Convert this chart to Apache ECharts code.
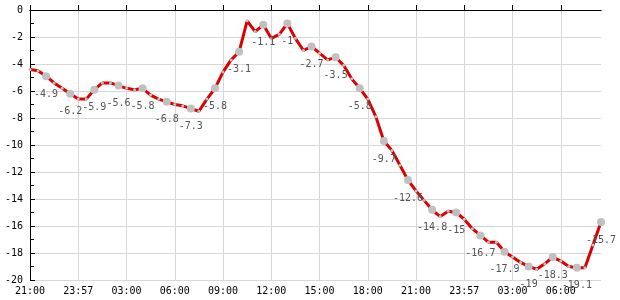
<!DOCTYPE html>
<html>
<head>
<meta charset="utf-8">
<script src="https://cdn.jsdelivr.net/npm/echarts@6/dist/echarts.min.js"></script>
<style>html,body{margin:0;padding:0;background:#fff}#c{width:620px;height:300px}</style>
</head>
<body>
<div id="c"></div>
<script>
var categories = ["21:00","21:30","22:00","22:30","23:00","23:30","23:57","00:30","01:00","01:30","02:00","02:30",
"03:00","03:30","04:00","04:30","05:00","05:30","06:00","06:30","07:00","07:30","08:00","08:30",
"09:00","09:30","10:00","10:30","11:00","11:30","12:00","12:30","13:00","13:30","14:00","14:30",
"15:00","15:30","16:00","16:30","17:00","17:30","18:00","18:30","19:00","19:30","20:00","20:30",
"21:00","21:30","22:00","22:30","23:00","23:30","23:57","00:30","01:00","01:30","02:00","02:30",
"03:00","03:30","04:00","04:30","05:00","05:30","06:00","06:30","07:00","07:30","08:00","08:30"];
var temperature = [-4.4,-4.5,-4.9,-5.4,-5.8,-6.2,-6.6,-6.6,-5.9,-5.4,-5.4,-5.6,
-5.8,-5.9,-5.8,-6.3,-6.6,-6.8,-7.0,-7.1,-7.3,-7.5,-6.6,-5.8,
-4.6,-3.7,-3.1,-0.8,-1.6,-1.1,-2.1,-1.8,-1.0,-2.1,-3.0,-2.7,
-3.2,-3.7,-3.5,-4.1,-5.1,-5.8,-6.6,-7.9,-9.7,-10.4,-11.5,-12.6,
-13.4,-14.1,-14.8,-15.3,-14.9,-15.0,-15.5,-16.2,-16.7,-17.2,-17.2,-17.9,
-18.3,-18.7,-19.0,-19.2,-18.8,-18.3,-18.6,-19.0,-19.1,-19.1,-17.4,-15.7];
var labelEvery = 3, labelOffset = 2;

var font = "DejaVu Sans Mono";
var chart = echarts.init(document.getElementById('c'), null, {renderer:'canvas'});
function isLabeled(i){ return i % labelEvery === labelOffset; }
chart.setOption({
  animation:false,
  grid:{left:30,right:19,top:10,bottom:20,containLabel:false},
  xAxis:[{
    type:'category', data:categories, boundaryGap:false,
    axisLine:{lineStyle:{color:'#000',width:1}},
    axisTick:{inside:true,length:5,interval:5,lineStyle:{color:'#000'}},
    axisLabel:{interval:5,color:'#000',fontFamily:font,fontSize:10,margin:6},
    splitLine:{show:true,interval:5,lineStyle:{color:'#d8d8d8',width:1}}
  },{
    type:'category', data:categories, boundaryGap:false, position:'top',
    axisLine:{show:true,lineStyle:{color:'#000',width:1}},
    axisTick:{show:false}, axisLabel:{show:false}, splitLine:{show:false}
  }],
  yAxis:{
    type:'value', min:-20, max:0, interval:2,
    axisLine:{show:true,lineStyle:{color:'#000'}},
    axisTick:{show:true,inside:true,length:5,lineStyle:{color:'#000'}},
    minorTick:{show:true,splitNumber:2,length:4,lineStyle:{color:'#000'}},
    axisLabel:{color:'#000',fontFamily:font,fontSize:10,margin:7},
    splitLine:{show:true,lineStyle:{color:'#d8d8d8',width:1}}
  },
  series:[{
    type:'line', data:temperature, xAxisIndex:0,
    lineStyle:{color:'#dd0000',width:3},
    itemStyle:{color:'#c0c0c0',borderWidth:0},
    symbol:'circle',
    showAllSymbol:true,
    symbolSize:function(v,p){ return isLabeled(p.dataIndex) ? 8 : 3; },
    label:{
      show:true, position:'bottom', distance:9,
      color:'#555', fontFamily:font, fontSize:10,
      formatter:function(p){ return isLabeled(p.dataIndex) ? String(p.value) : ''; }
    },
    z:3
  }]
});
</script>
</body>
</html>
